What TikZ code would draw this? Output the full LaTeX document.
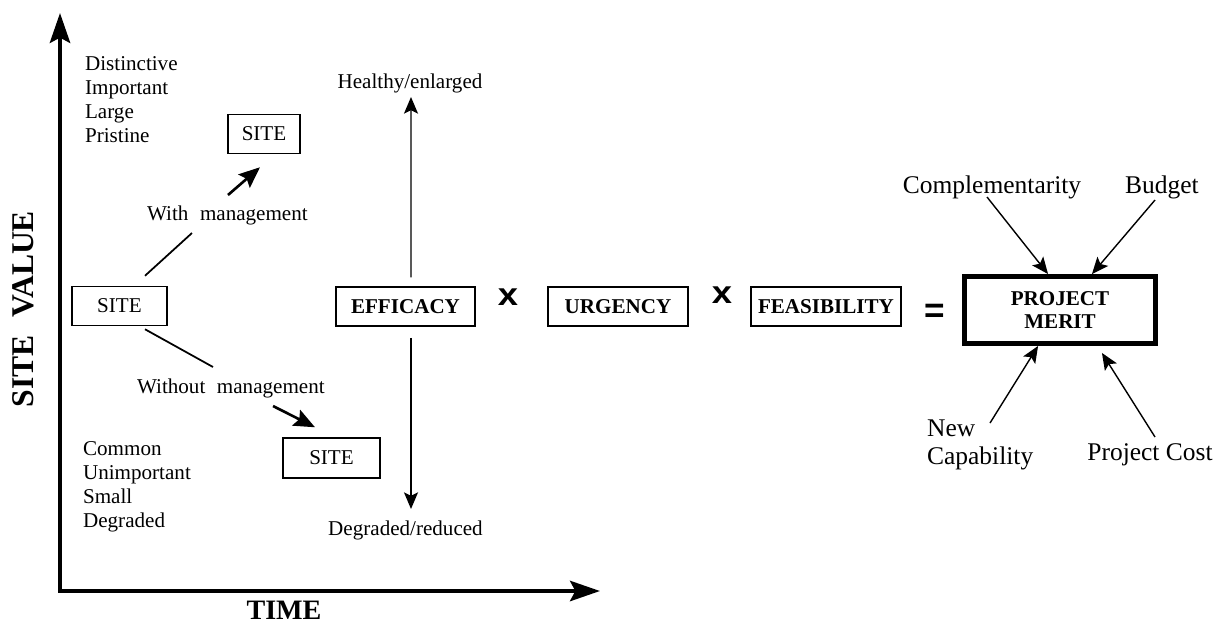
\documentclass[tikz,border=0pt]{standalone}
\usepackage{fontspec}
\usepackage{graphicx}
\setmainfont{Liberation Serif}
\newfontfamily\helv{Liberation Sans}
\usetikzlibrary{arrows.meta,calc}

\tikzset{
    box/.style={draw, line width=0.85pt, inner sep=0pt, minimum height=0.78cm},
    sitebox/.style={box, font=\fontsize{12}{14}\selectfont},
    factor/.style={box, font=\bfseries\fontsize{12}{14}\selectfont},
    meritbox/.style={draw, line width=2.8pt, inner sep=0pt, minimum width=3.82cm, minimum height=1.34cm, align=center, font=\bfseries\fontsize{12}{13}\selectfont},
    word/.style={inner sep=1pt, font=\fontsize{12}{14}\selectfont},
    bigword/.style={inner sep=1pt, font=\fontsize{14.5}{16}\selectfont},
    axisline/.style={line width=2.5pt, line join=miter, {Stealth[length=17pt,width=11.5pt,inset=3pt]}-{Stealth[length=17pt,width=11.5pt,inset=3pt]}},
    trendline/.style={line width=1pt},
    trendarrow/.style={line width=1.5pt, -{Stealth[length=12pt,width=10pt,inset=2pt]}},
    thinarrow/.style={line width=0.8pt, -{Stealth[length=9.5pt,width=8pt,inset=2pt]}},
    op/.style={inner sep=0pt, font=\helv\bfseries\fontsize{18}{18}\selectfont}
}

\begin{document}
\begin{tikzpicture}[x=0.02cm, y=-0.02cm]
    \useasboundingbox (0,0) rectangle (1226,626);

    % axes
    \draw[axisline] (60,13) -- (60,591) -- (600,591);
    \node[font=\bfseries\fontsize{18}{18}\selectfont, rotate=90] (sitevalue) at (23,309) {SITE\hspace{0.55em}VALUE};
    \node[font=\bfseries\fontsize{16}{16}\selectfont, inner sep=0pt] (time) at (284,610) {TIME};

    % value scale words
    \foreach \w [count=\i] in {Distinctive,Important,Large,Pristine}
        \node[word, anchor=base west] (hi\i) at (83,46+24*\i) {\w};
    \foreach \w [count=\i] in {Common,Unimportant,Small,Degraded}
        \node[word, anchor=base west] (lo\i) at (81,431+24*\i) {\w};

    % site trajectories
    \node[sitebox, minimum width=1.9cm] (siteL) at (119.5,306) {SITE};
    \node[sitebox, minimum width=1.44cm] (siteU) at (264,134) {SITE};
    \node[sitebox, minimum width=1.94cm, minimum height=0.8cm] (siteD) at (331.5,458) {SITE};
    \node[word, anchor=base west] (withLbl) at (145,220) {With\hspace{0.3em} management};
    \node[word, anchor=base west] (woLbl) at (135,393) {Without\hspace{0.3em} management};

    \draw[trendline] ($(siteL.north)+(25.5,-10)$) -- ($(withLbl.base west)+(47,13)$);
    \draw[trendarrow] ($(withLbl.base west)+(83,-25)$) -- ($(siteU.south)+(-4,13)$);
    \draw[trendline] ($(siteL.south)+(25.5,3)$) -- ($(woLbl.base west)+(78,-26)$);
    \draw[trendarrow] ($(woLbl.base west)+(138,13)$) -- ($(siteD.north)+(-16.5,-10)$);

    % factors
    \node[factor, minimum width=2.78cm] (eff) at (405.5,306.5) {EFFICACY};
    \node[factor, minimum width=2.8cm] (urg) at (618,306.5) {URGENCY};
    \node[factor, minimum width=3cm] (feas) at (826,306.5) {FEASIBILITY};
    \node[op] (times1) at (508,297.5) {\scalebox{1.15}[1]{x}};
    \node[op] (times2) at (722,295.5) {\scalebox{1.15}[1]{x}};
    \node[op, font=\helv\bfseries\fontsize{20}{20}\selectfont] (equals) at (935,313) {=};

    \node[word, anchor=base] (healthy) at (410,88) {Healthy/enlarged};
    \node[word, anchor=base] (degr) at (405.5,535) {Degraded/reduced};
    \draw[thinarrow] ($(eff.north)+(5.5,-9)$) -- ($(healthy.base)+(1,9)$);
    \draw[thinarrow] ($(eff.south)+(5.5,11)$) -- ($(degr.base)+(5.5,-26)$);

    % project merit and its inputs
    \node[meritbox] (merit) at (1060,310) {PROJECT\\MERIT};
    \node[bigword, anchor=base] (comp) at (992,193) {Complementarity};
    \node[bigword, anchor=base] (budget) at (1162,193) {Budget};
    \node[bigword, anchor=north west, align=left, font=\fontsize{14.5}{16}\selectfont] (newcap) at (925,418) {New\\Capability};
    \node[bigword, anchor=base] (cost) at (1150,460) {Project Cost};

    \draw[thinarrow] ($(comp.base)+(-5,4)$) -- ($(merit.north west)+(86,0)$);
    \draw[thinarrow] ($(budget.base)+(-7,7)$) -- ($(merit.north east)+(-66,0)$);
    \draw[thinarrow] ($(newcap.north west)+(65,5)$) -- ($(merit.south west)+(76,0)$);
    \draw[thinarrow] ($(cost.base)+(5,-23)$) -- ($(merit.south east)+(-56,7)$);
\end{tikzpicture}
\end{document}
